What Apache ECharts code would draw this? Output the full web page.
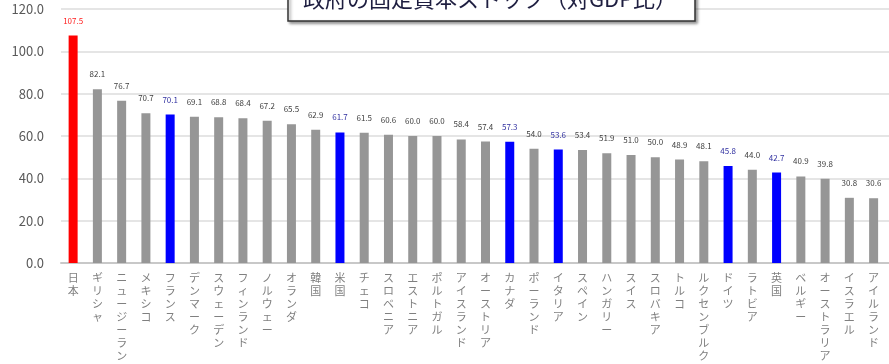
<!DOCTYPE html>
<html><head><meta charset="utf-8">
<script src="https://cdn.jsdelivr.net/npm/echarts@6/dist/echarts.min.js"></script>
<style>html,body{margin:0;padding:0;background:#fff}#c{width:889px;height:364px}</style>
</head><body><div id="c"></div>
<script>
const categories = ['日本','ギリシャ','ニュージーランド','メキシコ','フランス','デンマーク','スウェーデン','フィンランド','ノルウェー','オランダ','韓国','米国','チェコ','スロベニア','エストニア','ポルトガル','アイスランド','オーストリア','カナダ','ポーランド','イタリア','スペイン','ハンガリー','スイス','スロバキア','トルコ','ルクセンブルク','ドイツ','ラトビア','英国','ベルギー','オーストラリア','イスラエル','アイルランド',''];
const values = [107.5,82.1,76.7,70.7,70.1,69.1,68.8,68.4,67.2,65.5,62.9,61.7,61.5,60.6,60.0,60.0,58.4,57.4,57.3,54.0,53.6,53.4,51.9,51.0,50.0,48.9,48.1,45.8,44.0,42.7,40.9,39.8,30.8,30.6,null];
const redCountries = ['日本'];
const blueCountries = ['フランス','米国','カナダ','イタリア','ドイツ','英国'];
const yTicks = [0,20,40,60,80,100,120];
const titleText = '政府の固定資本ストック（対GDP比）';

const FONT = '"Noto Sans CJK JP", "Noto Sans", sans-serif';
const data = values.map((v, i) => {
  const name = categories[i];
  let c = '#969696', lc = '#404040';
  if (redCountries.includes(name)) { c = '#ff0000'; lc = '#ff2020'; }
  else if (blueCountries.includes(name)) { c = '#0000ff'; lc = '#3030a0'; }
  return { value: v, itemStyle: { color: c }, label: { color: lc } };
});

const chart = echarts.init(document.getElementById('c'));
chart.setOption({
  animation: false,
  grid: { left: 61, right: -21, top: 9, bottom: 101, containLabel: false, outerBoundsMode: 'none' },
  xAxis: {
    type: 'category', data: categories,
    axisTick: { show: false },
    axisLine: { lineStyle: { color: '#c8c8c8', width: 2 } },
    axisLabel: {
      interval: 0, fontSize: 11, color: '#808080', fontFamily: FONT,
      lineHeight: 13, margin: 8, verticalAlign: 'top',
      formatter: s => s.split('').join('\n')
    }
  },
  yAxis: {
    type: 'value', min: yTicks[0], max: yTicks[yTicks.length - 1], interval: 20,
    axisLine: { show: false }, axisTick: { show: false },
    splitLine: { lineStyle: { color: '#dcdcdc', width: 1.5 } },
    axisLabel: { fontSize: 13, color: '#595959', margin: 17, fontFamily: FONT, formatter: v => v.toFixed(1) }
  },
  series: [{
    type: 'bar', data: data, barWidth: 9,
    label: { show: true, position: 'top', distance: 11, fontSize: 8, fontFamily: FONT,
      formatter: p => p.value == null ? '' : p.value.toFixed(1) }
  }],
  graphic: [
    { type: 'rect', shape: { x: 288, y: -40, width: 407, height: 61 },
      style: { fill: '#fff', stroke: '#333', lineWidth: 1.5, shadowBlur: 3, shadowOffsetX: 2, shadowOffsetY: 2, shadowColor: 'rgba(0,0,0,0.4)' }, z: 100 },
    { type: 'text', x: 490, y: -1, z: 101,
      style: { text: titleText, fontSize: 22, fontFamily: FONT, fill: '#1e1e40', align: 'center', verticalAlign: 'middle' } }
  ]
});
</script></body></html>
